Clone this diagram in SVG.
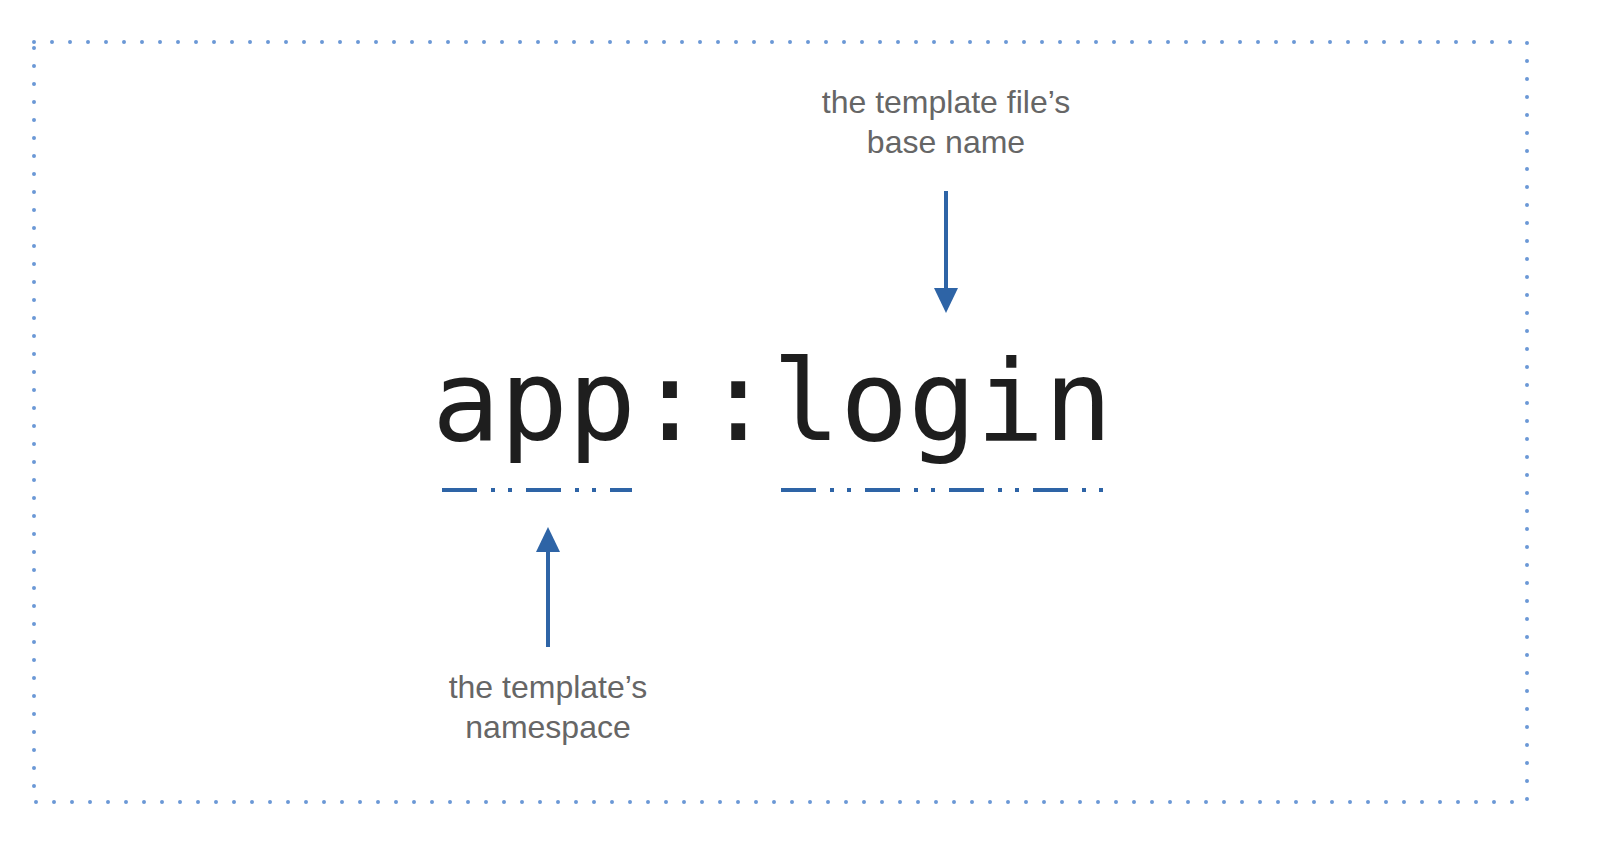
<svg xmlns="http://www.w3.org/2000/svg" width="1600" height="868" viewBox="0 0 1600 868">
<style>
.lbl{font-family:"Liberation Sans",Arial,sans-serif;font-size:32px;fill:#666;text-anchor:middle}
.code{font-family:"DejaVu Sans Mono",monospace;font-size:113px;fill:#1e1e1e}
.ul{stroke:#2e64a6;stroke-width:4;stroke-dasharray:35 14 4 13 4 14;fill:none}
.arr{stroke:#2e64a6;stroke-width:4;fill:none}
</style>
<defs>
<marker id="ah" markerWidth="8" markerHeight="8" refX="6" refY="4" orient="auto" markerUnits="userSpaceOnUse" viewBox="0 0 8 8">
<path d="M0,0 L8,4 L0,8 z" fill="#2e64a6"/>
</marker>
</defs>
<rect x="0" y="0" width="1600" height="868" fill="#fff"/>
<rect id="frame" x="34" y="42" width="1493" height="760" fill="none" stroke="#6b98d6" stroke-width="4" stroke-linecap="round" stroke-dasharray="0 18"/>
<g id="code"><text class="code" x="432" y="440">app::login</text></g>
<g id="top-label"><text class="lbl" x="946" y="113">the template file’s</text><text class="lbl" x="946" y="153">base name</text></g>
<g id="bottom-label"><text class="lbl" x="548" y="698">the template’s</text><text class="lbl" x="548" y="738">namespace</text></g>
<g id="connectors">
<line class="ul" x1="442" y1="490" x2="632" y2="490"/>
<line class="ul" x1="781" y1="490" x2="1104" y2="490"/>
<line class="arr" x1="946" y1="191" x2="946" y2="292"/>
<path d="M934,288 L958,288 L946,313 z" fill="#2e64a6"/>
<line class="arr" x1="548" y1="647" x2="548" y2="548"/>
<path d="M536,552 L560,552 L548,527 z" fill="#2e64a6"/>
</g>
</svg>
